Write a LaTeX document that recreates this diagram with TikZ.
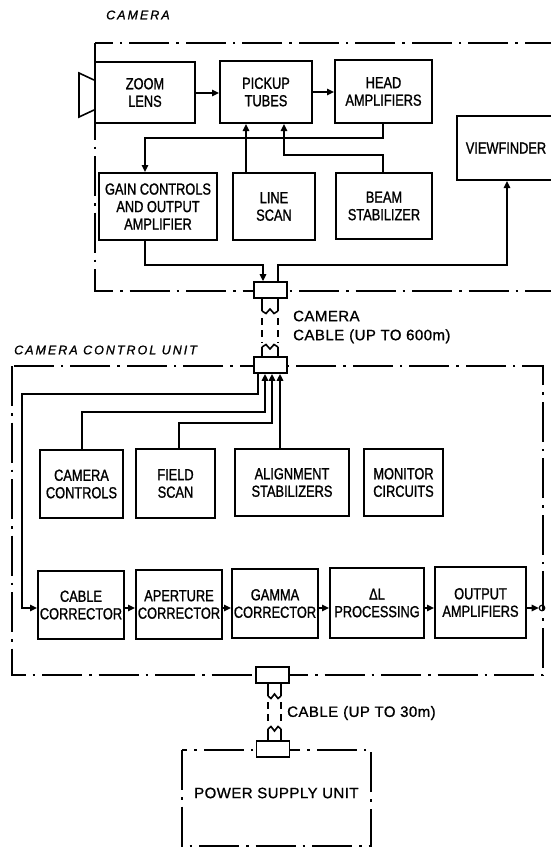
\documentclass[tikz,border=0pt]{standalone}
\usepackage{fontspec}
\setmainfont{Liberation Sans}[FakeStretch=0.8,FakeBold=1.2]
\newfontfamily\plainfont{Liberation Sans}[LetterSpace=3,FakeBold=1]
\newfontfamily\labfont{Liberation Sans}[LetterSpace=16,FakeBold=1]
\usetikzlibrary{arrows.meta,calc}
\begin{document}
\begin{tikzpicture}[x=1pt,y=-1pt,
  blk/.style={draw,line width=2pt,align=center,inner sep=0pt,fill=white,
    font=\fontsize{16}{17.5}\selectfont},
  conn/.style={draw,line width=1.8pt,fill=white,minimum width=33pt,minimum height=16pt,inner sep=0pt},
  wire/.style={line width=1.5pt},
  arr/.style={wire,-{Triangle[length=7pt,width=6.5pt]}},
  unit/.style={line width=1.4pt,dash pattern=on 40pt off 7pt on 2.5pt off 7pt},
  cab/.style={line width=1.6pt},
  cabd/.style={line width=1.6pt,dash pattern=on 7pt off 5pt},
  lab/.style={font=\plainfont\fontsize{15}{19}\selectfont,align=left,inner sep=0pt},
  ital/.style={font=\labfont\itshape\fontsize{12.5}{15}\selectfont,inner sep=0pt}]
\useasboundingbox (0,0) rectangle (550,847);
\fill[white] (0,0) rectangle (550,847);

% unit outlines
\draw[unit] (95,43) rectangle (562,291);
\draw[unit] (12,366) rectangle (543,675);
\draw[unit] (182,750) rectangle (371,846);

% unit labels
\node[ital,anchor=west] (lcam) at (106,15) {CAMERA};
\node[ital,anchor=west] (lccu) at (14,350) {CAMERA CONTROL UNIT};

% camera blocks
\node[blk,minimum width=100pt,minimum height=61pt] (zoom) at (145,92.5) {ZOOM\\LENS};
\node[blk,minimum width=92pt,minimum height=62pt] (pick) at (266,92) {PICKUP\\TUBES};
\node[blk,minimum width=97pt,minimum height=63pt] (head) at (383.5,91.5) {HEAD\\AMPLIFIERS};
\node[blk,minimum width=98pt,minimum height=64pt] (view) at (506,148) {VIEWFINDER};
\node[blk,minimum width=118pt,minimum height=67pt] (gain) at (158,206.5) {GAIN CONTROLS\\AND OUTPUT\\AMPLIFIER};
\node[blk,minimum width=82pt,minimum height=67pt] (line) at (274,206.5) {LINE\\SCAN};
\node[blk,minimum width=96pt,minimum height=66pt] (beam) at (384,206) {BEAM\\STABILIZER};

% lens shape
\draw[line width=1.6pt] (zoom.west |- 0,80) -- (79,73) -- (79,117) -- (zoom.west |- 0,110);

% CCU blocks
\node[blk,minimum width=83pt,minimum height=68pt] (cctl) at (81.5,484) {CAMERA\\CONTROLS};
\node[blk,minimum width=79pt,minimum height=69pt] (fscan) at (175.5,483.5) {FIELD\\SCAN};
\node[blk,minimum width=114pt,minimum height=67pt] (align) at (292,482.5) {ALIGNMENT\\STABILIZERS};
\node[blk,minimum width=79pt,minimum height=67pt] (mon) at (403.5,482.5) {MONITOR\\CIRCUITS};

\node[blk,minimum width=86pt,minimum height=68pt] (cabc) at (81,605) {CABLE\\CORRECTOR};
\node[blk,minimum width=86pt,minimum height=69pt] (apc) at (179,604.5) {APERTURE\\CORRECTOR};
\node[blk,minimum width=86pt,minimum height=69pt] (gam) at (275,603.5) {GAMMA\\CORRECTOR};
\node[blk,minimum width=94pt,minimum height=70pt] (dl) at (377,603) {ΔL\hspace{1.2em}\\PROCESSING};
\node[blk,minimum width=91pt,minimum height=71pt] (outa) at (480.5,602.5) {OUTPUT\\AMPLIFIERS};
\node[draw,circle,line width=1.2pt,minimum size=5.5pt,inner sep=0pt] (term) at (542,608) {};

% connectors
\node[conn] (c1) at (270.5,290) {};
\node[conn] (c2) at (270.5,365) {};
\node[conn] (c3) at (272.5,675) {};
\node[conn] (c4) at (273,749) {};

% camera cable
\draw[cab] (c1.south -| 262,0) -- (262,311);
\draw[cab] (c1.south -| 278,0) -- (278,311);
\draw[cab] (262,311) -- (266,313.5) -- (270,309) -- (274,313.5) -- (278,311);
\draw[cabd] (262,318) -- (262,343);
\draw[cabd] (278,318) -- (278,343);
\draw[cab] (262,347) -- (266,344.5) -- (270,349) -- (274,344.5) -- (278,347);
\draw[cab] (262,347) -- (c2.north -| 262,0);
\draw[cab] (278,347) -- (c2.north -| 278,0);
\node[lab,anchor=west] (lcab) at (293,327) {CAMERA\\CABLE\,\,(UP TO 600m)};

% power cable
\draw[cab] (c3.south -| 268,0) -- (268,696);
\draw[cab] (c3.south -| 281,0) -- (281,696);
\draw[cab] (268,696) -- (271,698.5) -- (274.5,694) -- (278,698.5) -- (281,696);
\draw[cabd] (268,702) -- (268,724);
\draw[cabd] (281,702) -- (281,724);
\draw[cab] (268,729) -- (271,726.5) -- (274.5,731) -- (278,726.5) -- (281,729);
\draw[cab] (268,729) -- (c4.north -| 268,0);
\draw[cab] (281,729) -- (c4.north -| 281,0);
\node[lab,anchor=west] (lpcab) at (287,713) {CABLE\,\,(UP TO 30m)};
\node[lab,anchor=west] (lpsu) at (194,793) {POWER SUPPLY UNIT};

% camera connections
\draw[arr] (zoom.east |- 0,93) -- (pick.west |- 0,93);
\draw[arr] (pick.east |- 0,92) -- (head.west |- 0,92);
\draw[arr] (head.south -| 383,0) -- (383,138) -- (145,138) -- (gain.north -| 145,0);
\draw[arr] (line.north -| 246,0) -- (pick.south -| 246,0);
\draw[arr] (beam.north -| 383,0) -- (383,155) -- (284,155) -- (pick.south -| 284,0);
\draw[arr] (gain.south -| 145,0) -- (145,265) -- (263,265) -- (c1.north -| 263,0);
\draw[arr] (c1.north -| 278,0) -- (278,265) -- (507,265) -- (view.south -| 507,0);

% CCU connections
\draw[arr] (c2.south -| 258,0) -- (258,394) -- (22,394) -- (22,608) -- (cabc.west |- 0,608);
\draw[arr] (cctl.north -| 82,0) -- (82,412) -- (265,412) -- (c2.south -| 265,0);
\draw[arr] (fscan.north -| 179,0) -- (179,423) -- (272,423) -- (c2.south -| 272,0);
\draw[arr] (align.north -| 280,0) -- (c2.south -| 280,0);
\draw[arr] (cabc.east |- 0,608) -- (apc.west |- 0,608);
\draw[arr] (apc.east |- 0,608) -- (gam.west |- 0,608);
\draw[arr] (gam.east |- 0,608) -- (dl.west |- 0,608);
\draw[arr] (dl.east |- 0,608) -- (outa.west |- 0,608);
\draw[arr] (outa.east |- 0,608) -- (term.west);
\end{tikzpicture}
\end{document}
